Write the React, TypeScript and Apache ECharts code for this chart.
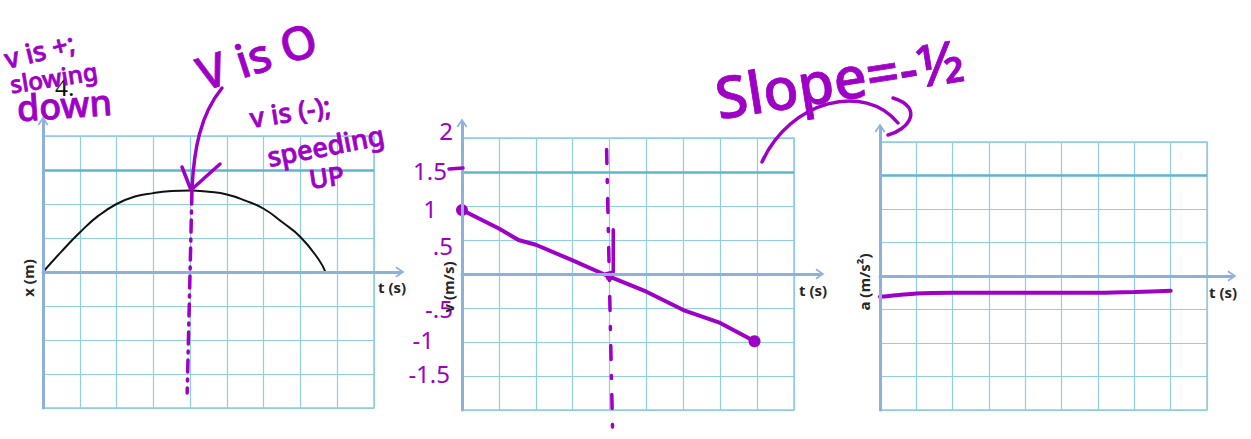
import { useEffect, useRef } from "react";
import * as echarts from "echarts";

// ---------- data ----------
// Panel 1: position vs time
const posTime = [0, 0.5, 1, 1.5, 2, 2.5, 3, 3.5, 4, 4.5, 5, 5.5, 6, 6.5, 7, 7.5, 7.68];
const posValue = [0, 0.6, 1.16, 1.65, 2.0, 2.22, 2.32, 2.38, 2.4, 2.36, 2.28, 2.1, 1.86, 1.47, 1.03, 0.36, 0];
// hand-drawn dash-dot marker through the peak (panel 1)
const posDashTime = [4.05, 3.92];
const posDashValue = [2.35, -3.56];

// Panel 2: velocity vs time (hand drawn)
const velTime = [0, 1, 1.53, 2, 3, 4, 5, 6, 7, 7.93];
const velValue = [0.94, 0.67, 0.5, 0.43, 0.2, -0.04, -0.26, -0.53, -0.72, -0.99];
const velDotTimes = [0, 4, 7.93];
const velDashTime = [3.92, 4.08];
const velDashValue = [1.83, -2.25];
const velCornerTime = [4.1, 4.1, 3.9];
const velCornerValue = [0.65, 0.03, 0];
const velTickValues = [2, 1.5, 1, 0.5, -0.5, -1, -1.5];
const velTickLabels = ["2", "1.5", "1", ".5", "-.5", "-1", "-1.5"];

// Panel 3: acceleration vs time (hand drawn)
const accTime = [0, 1, 2, 3, 4, 5, 6, 7, 8];
const accValue = [-0.31, -0.26, -0.25, -0.25, -0.25, -0.25, -0.25, -0.24, -0.22];

// axis ranges
const tMin = 0;
const tMax = 9;
const posMin = -4;
const posMax = 4;
const posStep = 1;
const velMin = -2;
const velMax = 2;
const velStep = 0.5;
const accMin = -2;
const accMax = 2;
const accStep = 0.5;
const posHeavyLine = 3;
const velHeavyLine = 1.5;
const accHeavyLine = 1.5;

// ---------- style ----------
const PURPLE = "#9e00c6";
const GRID_LINE = "#8fcfe0";
const GRID_BORDER = "#9fc6d2";
const HEAVY_LINE = "#5fb5cb";
const AXIS_COLOR = "#8db1dc";
const HAND_FONT = "'Noto Sans', sans-serif";
const LABEL_FONT = "'Open Sans', sans-serif";
const CHEVRON = "path://M0,9 L6,0 L12,9 L10.4,10 L6,3.4 L1.6,10 Z";
// hand-written tick label nudges: [padRight, shiftDown] per label
const velTickNudge = [
  [0, -8],
  [6, -2],
  [16, 2],
  [0, 5],
  [0, 0],
  [19, -3],
  [3, -3],
];

// panel layouts in pixels: inner grid + how far axes extend (right / top)
const panels = [
  { left: 43, top: 136, width: 331, height: 272, extRight: 26, extTop: 15, yMin: posMin, yMax: posMax },
  { left: 462, top: 138, width: 332, height: 272, extRight: 26, extTop: 15, yMin: velMin, yMax: velMax },
  { left: 880, top: 142, width: 327, height: 268, extRight: 25, extTop: 14, yMin: accMin, yMax: accMax },
];

const pairs = (xs: number[], ys: number[]) => xs.map((x, i) => [x, ys[i]]);

function heavyMark(value: number) {
  return {
    silent: true,
    symbol: ["none", "none"],
    label: { show: false },
    lineStyle: { color: HEAVY_LINE, width: 2.5, type: "solid" as const },
    emphasis: { disabled: true },
    data: [{ yAxis: value }],
  };
}

function handText(text: string, x: number, y: number, size: number, rotDeg = 0, extra: any = {}) {
  return {
    type: "text",
    x,
    y,
    rotation: (rotDeg * Math.PI) / 180,
    silent: true,
    z: 100,
    style: {
      text,
      fill: PURPLE,
      stroke: PURPLE,
      lineWidth: 0.8,
      fontSize: size,
      fontFamily: HAND_FONT,
      fontWeight: 500,
      align: "left",
      verticalAlign: "bottom",
      ...extra,
    },
  };
}

function axisTitle(text: string, x: number, y: number, rotate: boolean) {
  return {
    type: "text",
    x,
    y,
    rotation: rotate ? Math.PI / 2 : 0,
    silent: true,
    z: 50,
    style: {
      text,
      fill: "#262626",
      fontSize: 15,
      fontFamily: LABEL_FONT,
      fontWeight: "bold",
      align: "center",
      verticalAlign: "middle",
    },
  };
}

export default function App() {
  const ref = useRef<HTMLDivElement>(null);

  useEffect(() => {
    if (!ref.current) return;
    const chart = echarts.init(ref.current, null, { renderer: "svg" });

    const grids: any[] = [];
    const xAxes: any[] = [];
    const yAxes: any[] = [];
    const steps = [posStep, velStep, accStep];

    const rich: Record<string, any> = {};
    velTickNudge.forEach(([padRight, down], k) => {
      rich["k" + k] = {
        color: PURPLE,
        fontSize: 24,
        lineHeight: 22,
        fontFamily: HAND_FONT,
        padding: [Math.max(0, down * 2), padRight, Math.max(0, -down * 2), 0],
      };
    });

    // inner grids (graph paper)
    panels.forEach((p, i) => {
      grids.push({
        left: p.left,
        top: p.top,
        width: p.width,
        height: p.height,
        show: true,
        borderColor: GRID_BORDER,
        borderWidth: 1.5,
        backgroundColor: "transparent",
        containLabel: false,
      });
      xAxes.push({
        gridIndex: i,
        type: "value",
        min: tMin,
        max: tMax,
        interval: 1,
        axisLine: { show: false },
        axisTick: { show: false },
        axisLabel: { show: false },
        splitLine: { show: true, lineStyle: { color: GRID_LINE, width: 1.2 } },
      });
      yAxes.push({
        gridIndex: i,
        type: "value",
        min: p.yMin,
        max: p.yMax,
        interval: steps[i],
        axisLine: { show: false },
        axisTick: { show: false },
        axisLabel:
          i === 1
            ? {
                show: true,
                margin: 9,
                showMaxLabel: true,
                showMinLabel: true,
                hideOverlap: false,
                rich,
                formatter: (v: number) => {
                  const k = velTickValues.findIndex((t) => Math.abs(t - v) < 1e-6);
                  return k >= 0 ? `{k${k}|${velTickLabels[k]}}` : "";
                },
              }
            : { show: false },
        splitLine: { show: true, lineStyle: { color: GRID_LINE, width: 1.2 } },
      });
    });

    // outer grids: carry the arrowed axes, extending past the paper
    panels.forEach((p, i) => {
      const gi = panels.length + i;
      const colPx = p.width / (tMax - tMin);
      const rowPx = p.height / (p.yMax - p.yMin);
      grids.push({
        left: p.left,
        top: p.top - p.extTop,
        width: p.width + p.extRight,
        height: p.height + p.extTop,
        show: false,
      });
      const axisLine = {
        show: true,
        onZero: true,
        symbol: ["none", CHEVRON],
        symbolSize: [12, 9],
        lineStyle: { color: AXIS_COLOR, width: 3 },
      };
      xAxes.push({
        gridIndex: gi,
        type: "value",
        z: 5,
        min: tMin,
        max: tMax + p.extRight / colPx,
        axisLine,
        axisTick: { show: false },
        axisLabel: { show: false },
        splitLine: { show: false },
      });
      yAxes.push({
        gridIndex: gi,
        type: "value",
        z: 5,
        min: p.yMin,
        max: p.yMax + p.extTop / rowPx,
        axisLine,
        axisTick: { show: false },
        axisLabel: { show: false },
        splitLine: { show: false },
      });
    });

    const series: any[] = [
      {
        type: "line",
        xAxisIndex: 0,
        yAxisIndex: 0,
        data: pairs(posTime, posValue),
        smooth: 0.5,
        symbol: "none",
        lineStyle: { color: "#111", width: 2 },
        markLine: heavyMark(posHeavyLine),
        z: 3,
      },
      {
        type: "line",
        xAxisIndex: 0,
        yAxisIndex: 0,
        data: pairs(posDashTime, posDashValue),
        symbol: "none",
        clip: false,
        lineStyle: { color: PURPLE, width: 3.5, type: [12, 7, 2, 7], cap: "round" },
        z: 4,
      },
      {
        type: "line",
        xAxisIndex: 1,
        yAxisIndex: 1,
        data: velTime.map((t, i) =>
          velDotTimes.includes(t)
            ? { value: [t, velValue[i]], symbol: "circle", symbolSize: t === 4 ? 8 : 12 }
            : { value: [t, velValue[i]], symbol: "none" }
        ),
        showSymbol: true,
        symbol: "none",
        itemStyle: { color: PURPLE },
        lineStyle: { color: PURPLE, width: 4, cap: "round", join: "round" },
        markLine: heavyMark(velHeavyLine),
        z: 4,
      },
      {
        type: "line",
        xAxisIndex: 1,
        yAxisIndex: 1,
        data: pairs(velDashTime, velDashValue),
        symbol: "none",
        clip: false,
        lineStyle: { color: PURPLE, width: 3.5, type: [14, 16, 3, 16], cap: "round" },
        z: 4,
      },
      {
        type: "line",
        xAxisIndex: 1,
        yAxisIndex: 1,
        data: pairs(velCornerTime, velCornerValue),
        symbol: "none",
        lineStyle: { color: PURPLE, width: 3.5, cap: "round", join: "round" },
        z: 4,
      },
      {
        type: "line",
        xAxisIndex: 2,
        yAxisIndex: 2,
        data: pairs(accTime, accValue),
        smooth: 0.2,
        symbol: "none",
        lineStyle: { color: PURPLE, width: 4, cap: "round" },
        markLine: heavyMark(accHeavyLine),
        z: 4,
      },
    ];

    const purpleStroke = { stroke: PURPLE, lineWidth: 3.5, fill: "none", lineCap: "round", lineJoin: "round" };

    const graphic: any[] = [
      // axis titles
      axisTitle("x (m)", 28, 278, true),
      axisTitle("t (s)", 392, 287, false),
      axisTitle("v (m/s)", 448, 287, true),
      axisTitle("t (s)", 813, 290, false),
      axisTitle("a (m/s²)", 864, 282, true),
      axisTitle("t (s)", 1223, 292, false),
      // problem number
      {
        type: "text",
        x: 55,
        y: 100,
        silent: true,
        z: 60,
        style: {
          text: "4.",
          fill: "#111",
          fontSize: 26,
          fontFamily: "'Liberation Serif', serif",
          align: "left",
          verticalAlign: "bottom",
        },
      },
      // hand annotations
      handText("v is +;", 8, 72, 27, 14),
      handText("slowing", 12, 96, 24, 9),
      handText("down", 18, 126, 36, 4),
      handText("V is O", 205, 96, 46, 18),
      handText("v is (-);", 252, 131, 27, 9),
      handText("speeding", 270, 170, 27, 11),
      handText("UP", 311, 192, 26, 8),
      handText("Slope=-½", 720, 126, 58, 9),
      // arrow from "V is O" to the peak
      {
        type: "bezierCurve",
        silent: true,
        z: 100,
        shape: { x1: 222, y1: 88, cpx1: 200, cpy1: 115, cpx2: 194, cpy2: 150, x2: 192, y2: 188 },
        style: purpleStroke,
      },
      {
        type: "polyline",
        silent: true,
        z: 100,
        shape: { points: [[182, 167], [191, 190], [220, 164]] },
        style: purpleStroke,
      },
      // arch from panel 2 to panel 3
      {
        type: "bezierCurve",
        silent: true,
        z: 100,
        shape: { x1: 762, y1: 162, cpx1: 790, cpy1: 100, cpx2: 865, cpy2: 82, x2: 898, y2: 123 },
        style: purpleStroke,
      },
      {
        type: "bezierCurve",
        silent: true,
        z: 100,
        shape: { x1: 893, y1: 98, cpx1: 925, cpy1: 108, cpx2: 908, cpy2: 130, x2: 888, y2: 135 },
        style: purpleStroke,
      },
      // dash connecting "1.5" to the axis
      {
        type: "line",
        silent: true,
        z: 100,
        shape: { x1: 449, y1: 169, x2: 463, y2: 168 },
        style: purpleStroke,
      },
    ];

    chart.setOption({
      animation: false,
      backgroundColor: "#ffffff",
      grid: grids,
      xAxis: xAxes,
      yAxis: yAxes,
      series,
      graphic,
    });

    return () => chart.dispose();
  }, []);

  return (
    <div
      ref={ref}
      style={{ position: "absolute", left: 0, top: 0, width: 1251, height: 439 }}
    />
  );
}
